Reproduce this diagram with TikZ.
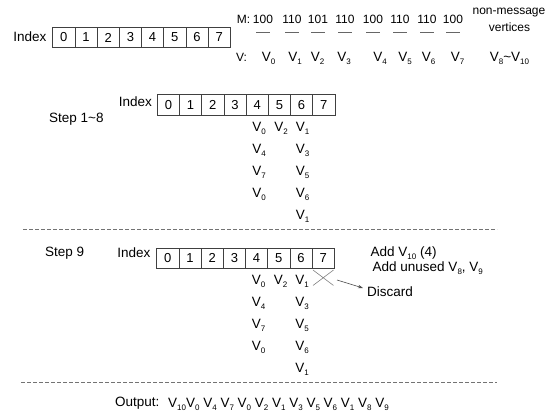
\documentclass[tikz,border=0pt]{standalone}
\usepackage{fontspec}
\setmainfont{Liberation Sans}
\usetikzlibrary{arrows.meta}
\begin{document}
\begin{tikzpicture}[x=1pt,y=-1pt,
  every node/.style={font=\fontsize{13.5}{16}\selectfont, inner sep=0pt},
  cell/.style={draw=black!75, line width=0.6pt, minimum width=22.2pt, minimum height=20.5pt, anchor=center, font=\fontsize{13}{15}\selectfont},
  lbl/.style={anchor=center},
  lw/.style={anchor=west},
  mval/.style={anchor=center, font=\fontsize{12}{14}\selectfont},
  dashline/.style={draw=black!55, line width=0.6pt, dash pattern=on 4pt off 2pt},
  bar/.style={draw=black!60, line width=0.6pt},
  cross/.style={draw=black!50, line width=0.6pt}]
\useasboundingbox (0,0) rectangle (558,419);
\newcommand{\Vs}[1]{V\raisebox{-2.8pt}{\fontsize{8}{9}\selectfont #1}}
% ---------- top row ----------
\node[anchor=east] (idxA) at (46.5,36.5) {Index};
\foreach \i in {0,...,7} {
  \node[cell] (a\i) at ({52.7+11.1+22.2*\i},37.5) {\i};
}
\node[mval] (mlab) at (243.5,19) {M:};
\foreach \v/\x [count=\k from 0] in {100/263,110/292,101/318,110/345,100/373,110/400,110/427,100/453} {
  \node[mval] (m\k) at (\x,19) {\v};
  \draw[bar] (\x-7,32) -- (\x+7,32);
}
\node[mval] (vlab) at (241.5,57) {V:};
\foreach \x [count=\k from 0] in {268.5,295,317.5,344,380,405,428.5,457.5} {
  \node[lbl] (v\k) at (\x,58) {\Vs{\k}};
}
\node[mval] (nm1) at (509,13) {non-message};
\node[mval] (nm2) at (509.5,27) {vertices};
\node[lbl] (v810) at (509.5,58) {\Vs{8}\textasciitilde\Vs{10}};
% ---------- step 1~8 ----------
\node[lw] (st1) at (49,119) {Step 1\textasciitilde 8};
\node[anchor=east] (idxB) at (152,102) {Index};
\foreach \i in {0,...,7} {
  \node[cell] (b\i) at ({157.3+11.1+22.2*\i},105) {\i};
}
\foreach \t/\y [count=\k] in {0/128,4/150,7/172,0/194} {
  \node[lbl] (b4r\k) at (259,\y) {\Vs{\t}};
}
\node[lbl] (b5r1) at (281,128) {\Vs{2}};
\foreach \t/\y [count=\k] in {1/128,3/150,5/172,6/194,1/216} {
  \node[lbl] (b6r\k) at (302.5,\y) {\Vs{\t}};
}
\draw[dashline] (23,229) -- (497,229);
% ---------- step 9 ----------
\node[lw] (st9) at (45,253) {Step 9};
\node[anchor=east] (idxC) at (150.5,253) {Index};
\foreach \i in {0,...,7} {
  \node[cell] (c\i) at ({156.7+11.1+22.2*\i},258.3) {\i};
}
\foreach \t/\y [count=\k] in {0/281,4/303,7/325,0/347} {
  \node[lbl] (c4r\k) at (258.5,\y) {\Vs{\t}};
}
\node[lbl] (c5r1) at (280.5,281) {\Vs{2}};
\foreach \t/\y [count=\k] in {1/281,3/303,5/325,6/347,1/369} {
  \node[lbl] (c6r\k) at (302,\y) {\Vs{\t}};
}
\draw[cross] (313,270) -- (333.5,285.5) (313,285.5) -- (333.5,270);
\coordinate (xs) at (337,280);
\node[lw] (add1) at (370.5,253) {Add \Vs{10} (4)};
\node[lw] (add2) at (372.5,268) {Add unused \Vs{8}, \Vs{9}};
\node[lw] (disc) at (367,292) {Discard};
\draw[black!70, line width=0.6pt, -{Stealth[length=5pt,width=3.5pt]}] (xs) -- ([shift={(-4,-4)}]disc.west);
\draw[dashline] (21,382) -- (497,382);
% ---------- output ----------
\node[lw] (outl) at (115,403) {Output:};
\node[lw] (outs) at (168,404) {\Vs{10}\Vs{0} \Vs{4} \Vs{7} \Vs{0} \Vs{2} \Vs{1} \Vs{3} \Vs{5} \Vs{6} \Vs{1} \Vs{8} \Vs{9}};
\end{tikzpicture}
\end{document}
